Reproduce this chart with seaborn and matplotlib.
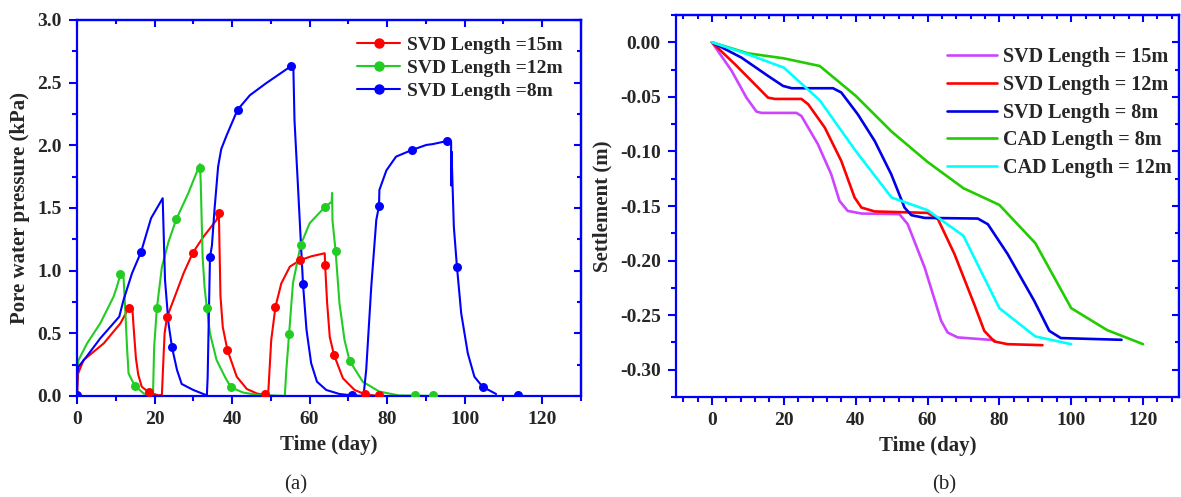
import numpy as np
import pandas as pd
import matplotlib
matplotlib.use("Agg")
import matplotlib.pyplot as plt
from matplotlib.ticker import MultipleLocator, FormatStrFormatter
from matplotlib.lines import Line2D
import seaborn as sns

# ---------------- data: panel (a) pore water pressure ----------------
red15_t = [0, 0.3, 1.7, 6.9, 11.2, 13.3, 14.3, 14.6, 15.2, 15.8, 16.7, 18.5, 21.0, 21.9, 22.3, 22.6, 23.2,
           24.9, 27.5, 29.9, 32.6, 36.0, 36.5, 36.6, 37.0, 37.6, 38.8, 41.2, 43.8, 46.4, 48.6, 49.3, 50.1,
           51.2, 52.7, 54.9, 57.6, 60.5, 63.9, 64.0, 64.5, 65.2, 66.3, 68.6, 71.6, 74.4, 78.0]
red15_p = [0, 0.18, 0.287, 0.42, 0.58, 0.70, 0.69, 0.55, 0.30, 0.17, 0.074, 0.03, 0.005, 0.01, 0.30, 0.50, 0.628,
           0.766, 0.98, 1.144, 1.27, 1.405, 1.458, 1.45, 0.80, 0.55, 0.367, 0.154, 0.056, 0.02, 0.008, 0.01, 0.447,
           0.713, 0.899, 1.032, 1.085, 1.115, 1.139, 1.045, 0.75, 0.47, 0.327, 0.141, 0.048, 0.012, 0.0]
red15_mt = [13.3, 18.5, 23.2, 29.9, 36.5, 38.8, 48.6, 51.2, 57.6, 64.0, 66.3, 74.4, 77.8]
red15_mp = [0.70, 0.03, 0.628, 1.144, 1.458, 0.367, 0.016, 0.713, 1.085, 1.045, 0.327, 0.015, 0.008]

green12_t = [0, 0.05, 0.4, 2.6, 6.0, 9.4, 10.3, 11.2, 12.0, 12.4, 12.9, 13.3, 14.9, 17.2, 19.6, 19.9, 20.6,
             21.9, 23.6, 25.6, 28.7, 31.7, 31.9, 32.4, 32.9, 33.5, 34.3, 36.0, 38.2, 39.7, 42.9, 46.4, 53.6,
             54.0, 54.7, 55.7, 57.7, 60.0, 63.9, 65.7, 65.8, 65.9, 66.7, 67.7, 69.0, 70.3, 73.7, 78.0, 83.0, 92.0]
green12_p = [0, 0.2, 0.287, 0.42, 0.58, 0.79, 0.872, 0.971, 0.95, 0.713, 0.39, 0.18, 0.082, 0.02, 0.005, 0.39, 0.70,
             1.03, 1.23, 1.41, 1.617, 1.85, 1.72, 1.11, 0.87, 0.70, 0.50, 0.287, 0.15, 0.069, 0.027, 0.01, 0.0,
             0.21, 0.492, 0.90, 1.205, 1.378, 1.506, 1.55, 1.62, 1.40, 1.157, 0.74, 0.447, 0.282, 0.114, 0.035, 0.005, 0.0]
green12_mt = [11.2, 14.9, 20.6, 25.6, 31.7, 33.5, 39.7, 54.7, 57.7, 63.9, 66.7, 70.3, 87.3, 91.8]
green12_mp = [0.971, 0.082, 0.70, 1.41, 1.822, 0.70, 0.069, 0.492, 1.205, 1.506, 1.157, 0.282, 0.008, 0.008]

blue8_t = [0, 0.05, 0.4, 2.6, 6.0, 9.4, 10.9, 12.0, 14.2, 16.5, 19.1, 22.1, 22.7, 23.6, 24.5, 25.8, 27.0, 30.0,
           33.5, 33.7, 34.3, 34.8, 35.5, 36.1, 36.4, 37.2, 38.6, 41.4, 44.6, 48.8, 55.3, 55.8, 56.1, 57.0, 58.3,
           59.2, 60.4, 61.9, 64.3, 67.7, 71.0, 73.9, 74.6, 75.9, 77.2, 77.9, 78.0, 79.8, 82.3, 86.4, 90.1, 91.8,
           95.5, 96.5, 96.5, 96.6, 97.2, 98.0, 99.1, 100.8, 102.5, 104.6, 108.1]
blue8_p = [0, 0.18, 0.234, 0.32, 0.46, 0.58, 0.633, 0.766, 0.98, 1.147, 1.418, 1.578, 0.926, 0.58, 0.389, 0.207, 0.096, 0.048,
           0.005, 0.15, 1.107, 1.20, 1.50, 1.72, 1.83, 1.97, 2.08, 2.283, 2.40, 2.496, 2.634, 2.63, 2.20, 1.67, 0.891,
           0.527, 0.261, 0.114, 0.048, 0.016, 0.005, 0.0, 0.21, 0.872, 1.405, 1.516, 1.644, 1.80, 1.91, 1.963, 2.003, 2.01,
           2.035, 2.03, 1.68, 1.95, 1.351, 1.032, 0.66, 0.341, 0.154, 0.074, 0.016]
blue8_mt = [0, 16.5, 24.5, 34.3, 41.4, 55.3, 58.3, 71.0, 77.9, 86.4, 95.5, 98.0, 104.6, 113.7]
blue8_mp = [0.008, 1.147, 0.389, 1.107, 2.283, 2.634, 0.891, 0.008, 1.516, 1.963, 2.035, 1.032, 0.074, 0.008]

labels_a = ["SVD Length =15m", "SVD Length =12m", "SVD Length =8m"]

# ---------------- data: panel (b) settlement ----------------
svd15_t = [0, 5.5, 9.6, 12.4, 13.8, 23.5, 24.9, 29.5, 33.2, 35.5, 37.8, 41.6, 52.2, 54.5, 59.2, 63.8, 65.6, 68.4, 78.6]
svd15_s = [0, -0.0262, -0.0507, -0.0635, -0.0647, -0.0647, -0.0675, -0.0934, -0.1209, -0.1453, -0.1545, -0.1569,
           -0.1575, -0.1667, -0.2063, -0.2552, -0.2659, -0.2704, -0.2729]
svd12_t = [0, 6.4, 12.4, 15.6, 17.5, 24.9, 26.8, 31.4, 36.0, 39.7, 41.6, 45.3, 60.0, 62.9, 67.5, 73.0, 75.8, 78.6, 82.3, 92.0]
svd12_s = [0, -0.0201, -0.040, -0.0507, -0.0519, -0.0519, -0.0568, -0.0781, -0.1087, -0.1422, -0.1514, -0.155,
           -0.1563, -0.162, -0.194, -0.240, -0.2644, -0.2741, -0.2766, -0.2775]
svd8_t = [0, 8.2, 15.6, 19.8, 22.2, 33.7, 36.0, 40.6, 45.3, 49.9, 53.6, 55.5, 59.2, 74.0, 76.8, 82.3, 89.7, 93.9, 97.1, 114.0]
svd8_s = [0, -0.014, -0.0308, -0.040, -0.0421, -0.0421, -0.046, -0.066, -0.0904, -0.1209, -0.1514, -0.1584,
          -0.1609, -0.1615, -0.1667, -0.194, -0.2369, -0.2644, -0.271, -0.2726]
cad8_t = [0, 10, 20, 30, 40, 50, 60, 70, 80, 90, 100, 110, 120]
cad8_s = [0, -0.0101, -0.0147, -0.0217, -0.049, -0.0818, -0.1096, -0.1337, -0.149, -0.184, -0.2436, -0.2637, -0.2766]
cad12_t = [0, 10, 20, 30, 40, 50, 60, 70, 80, 90, 100]
cad12_s = [0, -0.011, -0.0232, -0.0531, -0.0995, -0.1422, -0.1538, -0.1773, -0.2436, -0.2695, -0.2766]

labels_b = ["SVD Length = 15m", "SVD Length = 12m", "SVD Length = 8m", "CAD Length = 8m", "CAD Length = 12m"]

# ---------------- style ----------------
sns.set_theme(style="white")
plt.rcParams["font.family"] = ["Liberation Serif", "DejaVu Serif"]
plt.rcParams["font.weight"] = "bold"
plt.rcParams["axes.labelweight"] = "bold"
plt.rcParams["mathtext.default"] = "regular"

SPINE = "#0000FF"
fig = plt.figure(figsize=(11.81, 4.97), dpi=100)
axA = fig.add_axes([77 / 1181, 1 - 396 / 497, (581 - 77) / 1181, (396 - 20) / 497])
axB = fig.add_axes([676 / 1181, 1 - 397 / 497, (1179 - 676) / 1181, (397 - 15) / 497])


def style_axes(ax, xmaj, xmin, ymaj, ymin, yfmt):
    for sp in ax.spines.values():
        sp.set_color(SPINE)
        sp.set_linewidth(1.6)
        sp.set_visible(True)
    ax.xaxis.set_major_locator(MultipleLocator(xmaj))
    ax.xaxis.set_minor_locator(MultipleLocator(xmin))
    ax.yaxis.set_major_locator(MultipleLocator(ymaj))
    ax.yaxis.set_minor_locator(MultipleLocator(ymin))
    ax.yaxis.set_major_formatter(FormatStrFormatter(yfmt))
    ax.tick_params(which="both", direction="out", color=SPINE, width=1.5, bottom=True, left=True,
                   labelsize=14, pad=5)
    ax.tick_params(which="major", length=6)
    ax.tick_params(which="minor", length=3.5)
    for lab in ax.get_xticklabels() + ax.get_yticklabels():
        lab.set_fontweight("bold")
    secx = ax.secondary_xaxis("top")
    secx.xaxis.set_major_locator(MultipleLocator(xmaj))
    secx.xaxis.set_minor_locator(MultipleLocator(xmin))
    secx.tick_params(which="both", direction="in", color=SPINE, width=1.5, labeltop=False)
    secx.tick_params(which="major", length=5)
    secx.tick_params(which="minor", length=3)
    secx.spines["top"].set_color(SPINE)
    secx.spines["top"].set_linewidth(1.6)
    secy = ax.secondary_yaxis("right")
    secy.yaxis.set_major_locator(MultipleLocator(ymaj))
    secy.yaxis.set_minor_locator(MultipleLocator(ymin))
    secy.tick_params(which="both", direction="in", color=SPINE, width=1.5, labelright=False)
    secy.tick_params(which="major", length=5)
    secy.tick_params(which="minor", length=3)
    secy.spines["right"].set_color(SPINE)
    secy.spines["right"].set_linewidth(1.6)


# ---------------- panel (a) ----------------
colors_a = ["#FF0000", "#22CC22", "#0000FF"]
series_a = [(red15_t, red15_p, red15_mt, red15_mp),
            (green12_t, green12_p, green12_mt, green12_mp),
            (blue8_t, blue8_p, blue8_mt, blue8_mp)]
for (t, p, mt, mp), c, lab in zip(series_a, colors_a, labels_a):
    df = pd.DataFrame({"t": t, "p": p})
    sns.lineplot(data=df, x="t", y="p", ax=axA, sort=False, estimator=None, color=c, lw=1.5)
    dm = pd.DataFrame({"t": mt, "p": mp})
    sns.scatterplot(data=dm, x="t", y="p", ax=axA, color=c, s=42, linewidth=0, zorder=3, clip_on=True)

axA.set_xlim(0, 130)
axA.set_ylim(0, 3.0)
style_axes(axA, 20, 10, 0.5, 0.25, "%.1f")
axA.set_xlabel("Time (day)", fontsize=15, fontweight="bold", labelpad=5)
axA.set_ylabel("Pore water pressure (kPa)", fontsize=15, fontweight="bold", labelpad=5)
handles_a = [Line2D([], [], color=c, lw=1.5, marker="o", markersize=6.5) for c in colors_a]
axA.legend(handles_a, labels_a, loc="upper left", bbox_to_anchor=(0.556, 0.957), frameon=False,
           prop={"weight": "bold", "size": 14}, borderpad=0, borderaxespad=0, handlelength=2.2,
           handletextpad=0.35, labelspacing=0.28)
fig.text(296 / 1181, 1 - 485 / 497, "(a)", ha="center", va="center", fontsize=15, fontweight="normal")

# ---------------- panel (b) ----------------
colors_b = ["#CC44FF", "#FF0000", "#0000E6", "#22CC00", "#00FFFF"]
series_b = [(svd15_t, svd15_s), (svd12_t, svd12_s), (svd8_t, svd8_s), (cad8_t, cad8_s), (cad12_t, cad12_s)]
for (t, s), c in zip(series_b, colors_b):
    df = pd.DataFrame({"t": t, "s": s})
    sns.lineplot(data=df, x="t", y="s", ax=axB, sort=False, estimator=None, color=c, lw=1.9)

axB.set_xlim(-10, 130)
axB.set_ylim(-0.325, 0.025)
style_axes(axB, 20, 4, 0.05, 0.025, "%.2f")
axB.set_xlabel("Time (day)", fontsize=15, fontweight="bold", labelpad=5)
axB.set_ylabel("Settlement (m)", fontsize=15, fontweight="bold", labelpad=5)
handles_b = [Line2D([], [], color=c, lw=1.9) for c in colors_b]
axB.legend(handles_b, labels_b, loc="upper left", bbox_to_anchor=(0.538, 0.915), frameon=False,
           prop={"weight": "bold", "size": 14.5}, borderpad=0, borderaxespad=0, handlelength=2.5,
           handletextpad=0.3, labelspacing=0.38)
fig.text(944 / 1181, 1 - 485 / 497, "(b)", ha="center", va="center", fontsize=15, fontweight="normal")

fig.savefig("out.png", dpi=100)
